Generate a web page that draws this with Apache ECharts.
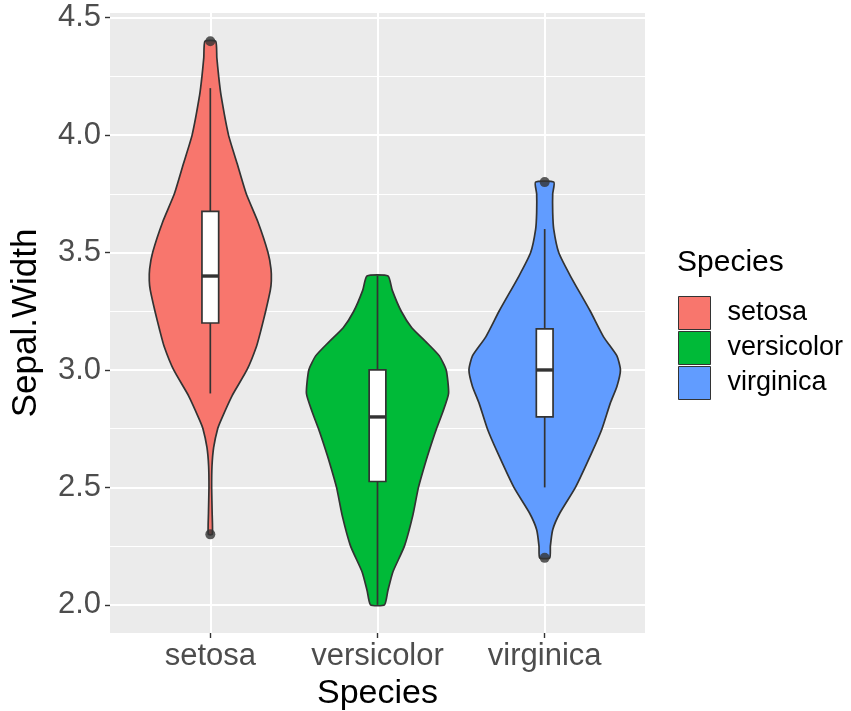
<!DOCTYPE html>
<html>
<head>
<meta charset="utf-8">
<title>Sepal.Width by Species</title>
<script src="https://cdn.jsdelivr.net/npm/echarts@6/dist/echarts.min.js"></script>
<style>
  html, body { margin: 0; padding: 0; background: #ffffff; }
  #chart { width: 851px; height: 711px; }
</style>
</head>
<body>
<div id="chart"></div>
<script>
// Categories and fills
const species = ['setosa', 'versicolor', 'virginica'];
const fillColors = ['#F8766D', '#00BA38', '#619CFF'];
const categoryPositions = [1, 2, 3];

// Y axis breaks
const yTicks = [2.0, 2.5, 3.0, 3.5, 4.0, 4.5];
const yMinorTicks = [2.25, 2.75, 3.25, 3.75, 4.25];

// Violin outlines: [Sepal.Width, half width in category units], top to bottom
const setosaViolin = [
  [4.40, 0.032], [4.33, 0.039], [4.25, 0.050], [4.17, 0.064], [4.00, 0.109],
  [3.88, 0.160], [3.75, 0.215], [3.63, 0.285], [3.50, 0.345], [3.43, 0.363],
  [3.38, 0.365], [3.34, 0.359], [3.25, 0.331], [3.17, 0.303], [3.10, 0.276],
  [3.00, 0.219], [2.89, 0.130], [2.79, 0.066], [2.75, 0.044], [2.67, 0.020],
  [2.59, 0.010], [2.50, 0.008], [2.39, 0.011], [2.30, 0.012]
];
const versicolorViolin = [
  [3.40, 0.063], [3.34, 0.088], [3.25, 0.142], [3.18, 0.205], [3.12, 0.290],
  [3.06, 0.370], [3.00, 0.411], [2.90, 0.425], [2.82, 0.390], [2.75, 0.353],
  [2.70, 0.329], [2.62, 0.293], [2.50, 0.245], [2.38, 0.211], [2.25, 0.161],
  [2.14, 0.092], [2.06, 0.062], [2.00, 0.042]
];
const virginicaViolin = [
  [3.80, 0.055], [3.75, 0.048], [3.67, 0.048], [3.60, 0.054], [3.50, 0.084],
  [3.40, 0.154], [3.25, 0.273], [3.14, 0.353], [3.06, 0.432], [3.00, 0.453],
  [2.93, 0.432], [2.86, 0.393], [2.75, 0.343], [2.65, 0.283], [2.50, 0.184],
  [2.39, 0.090], [2.32, 0.048], [2.25, 0.034], [2.20, 0.030]
];
const violinProfiles = [setosaViolin, versicolorViolin, virginicaViolin];

// Box-plot statistics per species
const whiskerLow = [2.9, 2.0, 2.5];
const lowerQuartile = [3.2, 2.525, 2.8];
const medians = [3.4, 2.8, 3.0];
const upperQuartile = [3.675, 3.0, 3.175];
const whiskerHigh = [4.2, 3.4, 3.6];
const outlierPoints = [[1, 4.4], [1, 2.3], [3, 3.8], [3, 2.2]];

const FONT = '"Liberation Sans", Arial, Helvetica, sans-serif';
const INK = '#333333';
const BOX_HALF = 0.05;
const STROKE = 1.7;

function violinRenderer(profile) {
  return function (params, api) {
    const x = api.value(0);
    const left = [];
    const right = [];
    profile.forEach(function (p) {
      left.push(api.coord([x - p[1], p[0]]));
      right.push(api.coord([x + p[1], p[0]]));
    });
    const points = left.concat(right.reverse());
    return {
      type: 'polygon',
      shape: { points: points, smooth: 0.18 },
      style: { fill: api.visual('color'), stroke: INK, lineWidth: STROKE, lineJoin: 'round' }
    };
  };
}

function boxRenderer(params, api) {
  const x = api.value(0);
  const pLow = api.coord([x, api.value(1)]);
  const pQ1 = api.coord([x, api.value(2)]);
  const pMed = api.coord([x, api.value(3)]);
  const pQ3 = api.coord([x, api.value(4)]);
  const pHigh = api.coord([x, api.value(5)]);
  const xl = api.coord([x - BOX_HALF, api.value(3)])[0];
  const xr = api.coord([x + BOX_HALF, api.value(3)])[0];
  const lineStyle = { stroke: INK, lineWidth: STROKE };
  return {
    type: 'group',
    children: [
      { type: 'line', shape: { x1: pLow[0], y1: pLow[1], x2: pQ1[0], y2: pQ1[1] }, style: lineStyle },
      { type: 'line', shape: { x1: pQ3[0], y1: pQ3[1], x2: pHigh[0], y2: pHigh[1] }, style: lineStyle },
      { type: 'rect', shape: { x: xl, y: pQ3[1], width: xr - xl, height: pQ1[1] - pQ3[1] },
        style: { fill: '#ffffff', stroke: INK, lineWidth: STROKE } },
      { type: 'line', shape: { x1: xl, y1: pMed[1], x2: xr, y2: pMed[1] },
        style: { stroke: INK, lineWidth: 3.4 } }
    ]
  };
}

const violinSeries = species.map(function (name, i) {
  return {
    name: name,
    type: 'custom',
    renderItem: violinRenderer(violinProfiles[i]),
    itemStyle: { color: fillColors[i] },
    encode: { x: 0, y: 1 },
    data: [[categoryPositions[i], medians[i]]],
    z: 2
  };
});

const boxData = species.map(function (name, i) {
  return [categoryPositions[i], whiskerLow[i], lowerQuartile[i], medians[i], upperQuartile[i], whiskerHigh[i]];
});

const chart = echarts.init(document.getElementById('chart'), null, { renderer: 'canvas' });

chart.setOption({
  animation: false,
  backgroundColor: '#ffffff',
  textStyle: { fontFamily: FONT },
  grid: {
    left: 110, right: 206, top: 13, bottom: 78,
    show: true, backgroundColor: '#EBEBEB', borderWidth: 0,
    containLabel: false, outerBoundsMode: 'none'
  },
  title: {
    text: 'Species',
    left: 677, top: 248, padding: 0,
    textStyle: { fontFamily: FONT, fontSize: 30, fontWeight: 'normal', color: '#000000' }
  },
  legend: {
    data: species,
    orient: 'vertical',
    left: 678, top: 296, padding: 0,
    itemWidth: 32, itemHeight: 33, itemGap: 1,
    icon: 'rect',
    selectedMode: false,
    itemStyle: { borderColor: INK, borderWidth: 1 },
    textStyle: { fontFamily: FONT, fontSize: 27, color: '#000000', padding: [0, 0, 0, 12] }
  },
  xAxis: {
    type: 'value',
    min: 0.4, max: 3.6,
    axisLine: { show: false },
    axisTick: { customValues: categoryPositions, length: 5, lineStyle: { color: INK, width: 1.4 } },
    axisLabel: {
      customValues: categoryPositions,
      formatter: function (v) { return species[Math.round(v) - 1]; },
      fontFamily: FONT, fontSize: 31, color: '#4D4D4D', margin: 8
    },
    splitLine: { show: true, lineStyle: { color: '#ffffff', width: 2 } },
    name: 'Species',
    nameLocation: 'middle',
    nameGap: 43,
    nameTextStyle: { fontFamily: FONT, fontSize: 34, color: '#000000' }
  },
  yAxis: [
    {
      type: 'value',
      min: 1.88, max: 4.52,
      axisLine: { show: false },
      axisTick: { customValues: yTicks, length: 5, lineStyle: { color: INK, width: 1.4 } },
      axisLabel: {
        customValues: yTicks,
        formatter: function (v) { return v.toFixed(1); },
        fontFamily: FONT, fontSize: 31, color: '#4D4D4D', margin: 9
      },
      splitLine: { show: true, lineStyle: { color: '#ffffff', width: 2 } },
      name: 'Sepal.Width',
      nameLocation: 'middle',
      nameRotate: 90,
      nameGap: 66,
      nameTextStyle: { fontFamily: FONT, fontSize: 35, color: '#000000' }
    },
    {
      type: 'value',
      min: 1.88, max: 4.52,
      position: 'left',
      axisLine: { show: false },
      axisTick: { show: false, customValues: yMinorTicks },
      axisLabel: { show: false, customValues: yMinorTicks },
      splitLine: { show: true, lineStyle: { color: '#ffffff', width: 1 } }
    }
  ],
  series: violinSeries.concat([
    {
      name: 'box',
      type: 'custom',
      renderItem: boxRenderer,
      encode: { x: 0, y: [1, 2, 3, 4, 5] },
      data: boxData,
      z: 3
    },
    {
      name: 'outliers',
      type: 'scatter',
      data: outlierPoints,
      symbol: 'circle',
      symbolSize: 10,
      itemStyle: { color: INK },
      z: 4
    }
  ])
});
</script>
</body>
</html>
